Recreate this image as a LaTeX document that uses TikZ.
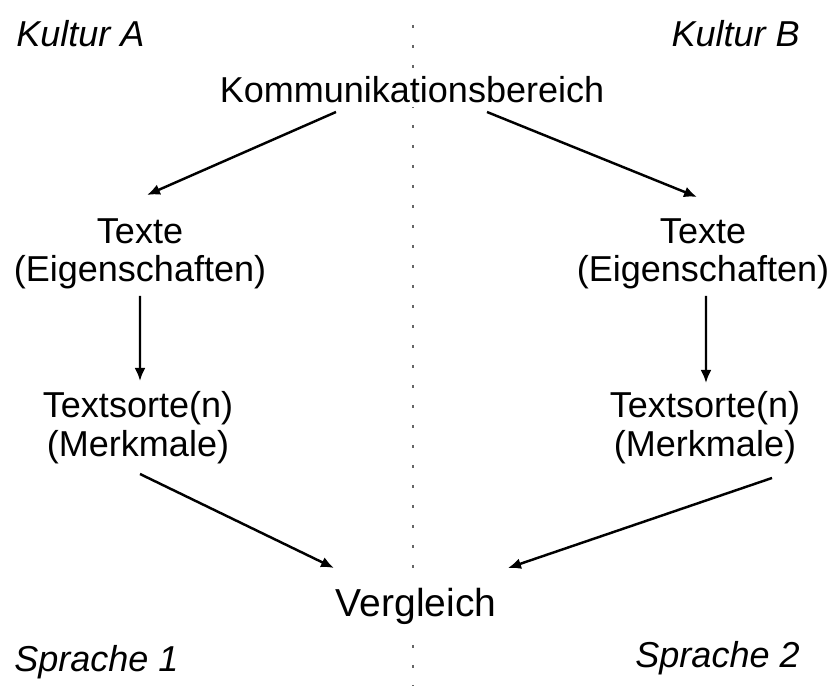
\documentclass[tikz,border=0pt]{standalone}
\usepackage{fontspec}
\setmainfont{Liberation Sans}
\usetikzlibrary{calc,arrows.meta}
\tikzset{
	lbl/.style={align=center, inner sep=2pt, font=\fontsize{20.5pt}{22pt}\selectfont},
	culture/.style={inner sep=0pt, font=\fontsize{20.5pt}{22pt}\selectfont\itshape},
	arr/.style={line width=1.4pt, -{Latex[length=2.6mm,width=2.2mm]}}
}

\begin{document}
\begin{tikzpicture}
			%%%%% START %%%%%
			\useasboundingbox (0, 0) rectangle (16.6, 13.72);
			
			\draw[line width=0.9pt, color=black!60, dash pattern=on 0.06cm off 0.34cm] (8.26, 13.22) -- (8.26, 0);
			
			\node[culture, anchor=base west] (kulturA) at (0.32, 12.78) {Kultur A};
			\node[culture, anchor=base east] (kulturB) at (16.0, 12.78) {Kultur B};
			
			\node[lbl, fill=white] (komm) at (8.24, 11.92) {Kommunikationsbereich};
			
			\node[lbl] (textA) at (2.8, 8.64) {Texte\\(Eigenschaften)};
			\node[lbl] (textB) at (14.06, 8.64) {Texte\\(Eigenschaften)};
			
			\node[lbl] (sortA) at (2.76, 5.16) {Textsorte(n)\\(Merkmale)};
			\node[lbl] (sortB) at (14.1, 5.16) {Textsorte(n)\\(Merkmale)};
			
			\node[lbl, fill=white, font=\fontsize{22.2pt}{24pt}\selectfont] (vgl) at (8.32, 1.6) {Vergleich};
			
			\node[culture, anchor=base west] (spracheA) at (0.28, 0.28) {Sprache 1};
			\node[culture, anchor=base east] (spracheB) at (16.0, 0.36) {Sprache 2};
			
			\draw[arr] ($(komm)+(-1.52, -0.44)$) -- ($(textA)+(0.14, 1.18)$);
			\draw[arr] ($(komm)+(1.5, -0.44)$) -- ($(textB)+(-0.12, 1.14)$);
			
			\draw[arr] ($(textA)+(0, -0.84)$) -- ($(sortA)+(0.04, 0.94)$);
			\draw[arr] ($(textB)+(0.06, -0.84)$) -- ($(sortB)+(0.02, 0.9)$);
			
			\draw[arr] ($(sortA)+(0.04, -0.92)$) -- ($(vgl)+(-1.64, 0.76)$);
			\draw[arr] ($(sortB)+(1.34, -1.0)$) -- ($(vgl)+(1.84, 0.76)$);
			
			%%%%% END %%%%%
\end{tikzpicture}
\end{document}
